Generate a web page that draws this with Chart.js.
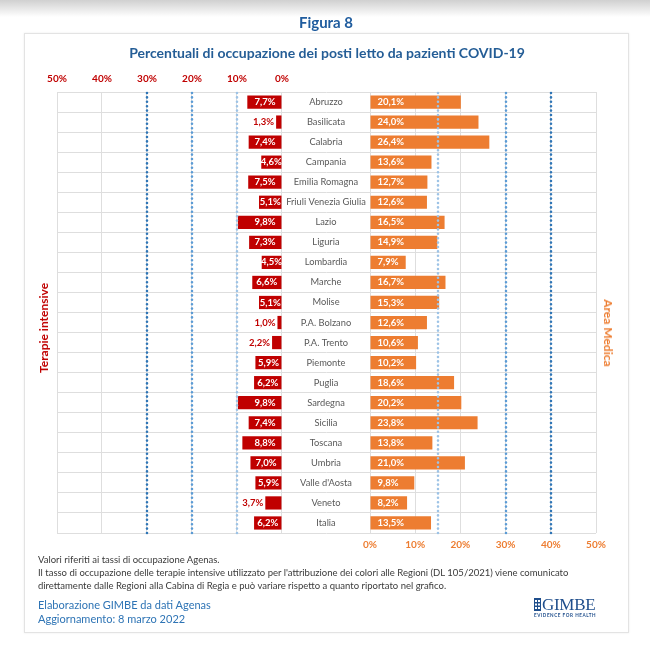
<!DOCTYPE html>
<html lang="it">
<head>
<meta charset="utf-8">
<title>Figura 8</title>
<script src="https://cdn.jsdelivr.net/npm/chart.js@4.4.1/dist/chart.umd.min.js"></script>
<style>
  html, body { margin: 0; padding: 0; }
  body {
    width: 650px; height: 655px; position: relative; overflow: hidden;
    font-family: Lato, "Noto Sans", sans-serif;
    background: #fff linear-gradient(#d0d0d0 0px, #ffffff 17px) no-repeat;
  }
  .panel {
    position: absolute; left: 24px; top: 33px; width: 603px; height: 598px;
    border: 1px solid #e3e3e3; box-shadow: 0 0 2px rgba(0,0,0,.08); background: #fff;
  }
  #grafico { position: absolute; left: 0; top: 0; }
  .t { position: absolute; white-space: nowrap; line-height: 1; }
  .c { transform: translate(-50%, -50%); }
  .l { transform: translateY(-50%); }
  .figura { left: 326px; top: 22px; font-weight: bold; font-size: 15px; color: #1f5c9e; }
  .titolo { left: 327px; top: 53px; font-weight: bold; font-size: 14px; color: #245d96; }
  .ti { left: 44px; top: 328px; font-weight: bold; font-size: 12px; color: #c00000; transform: translate(-50%, -50%) rotate(-90deg); }
  .am { left: 608px; top: 333px; font-weight: bold; font-size: 12px; color: #ed7d31; transform: translate(-50%, -50%) rotate(90deg); }
  .nota { left: 38px; font-size: 9.5px; color: #3a3a3a; }
  .fonte { left: 38px; font-size: 11px; color: #2e74b5; }
  .logo { left: 534px; top: 597px; color: #1f4e8c; }
  .logo .nome { position: absolute; left: 8px; top: 0; font-family: "Liberation Serif", "DejaVu Serif", serif; font-size: 17px; line-height: 15px; letter-spacing: -0.3px; }
  .logo .motto { position: absolute; left: 0; top: 16px; font-size: 4.6px; font-weight: bold; letter-spacing: 0.55px; }
</style>
</head>
<body>
<div class="panel"></div>
<canvas id="grafico" width="650" height="655"></canvas>

<div class="t c figura">Figura 8</div>
<div class="t c titolo">Percentuali di occupazione dei posti letto da pazienti COVID-19</div>
<div class="t ti">Terapie intensive</div>
<div class="t am">Area Medica</div>

<div class="t l nota" style="top:560px">Valori riferiti ai tassi di occupazione Agenas.</div>
<div class="t l nota" style="top:573px">Il tasso di occupazione delle terapie intensive utilizzato per l'attribuzione dei colori alle Regioni (DL 105/2021) viene comunicato</div>
<div class="t l nota" style="top:586px">direttamente dalle Regioni alla Cabina di Regia e può variare rispetto a quanto riportato nel grafico.</div>
<div class="t l fonte" style="top:604px">Elaborazione GIMBE da dati Agenas</div>
<div class="t l fonte" style="top:618px">Aggiornamento: 8 marzo 2022</div>

<div class="t logo">
  <svg width="7" height="13" style="position:absolute;left:0;top:1px">
    <rect x="0" y="0" width="7" height="13" fill="#1f4e8c"/>
    <rect x="1" y="2" width="2" height="2" fill="#fff"/><rect x="4" y="2" width="2" height="2" fill="#fff"/>
    <rect x="1" y="5.5" width="2" height="2" fill="#fff"/><rect x="4" y="5.5" width="2" height="2" fill="#fff"/>
    <rect x="1" y="9" width="2" height="2" fill="#fff"/><rect x="4" y="9" width="2" height="2" fill="#fff"/>
  </svg>
  <span class="nome">GIMBE</span>
  <span class="motto">EVIDENCE FOR HEALTH</span>
</div>

<script>
const regioni = ['Abruzzo', 'Basilicata', 'Calabria', 'Campania', 'Emilia Romagna', 'Friuli Venezia Giulia',
  'Lazio', 'Liguria', 'Lombardia', 'Marche', 'Molise', 'P.A. Bolzano', 'P.A. Trento', 'Piemonte',
  'Puglia', 'Sardegna', 'Sicilia', 'Toscana', 'Umbria', "Valle d'Aosta", 'Veneto', 'Italia'];
const terapieIntensive = [7.7, 1.3, 7.4, 4.6, 7.5, 5.1, 9.8, 7.3, 4.5, 6.6, 5.1, 1.0, 2.2, 5.9, 6.2, 9.8, 7.4, 8.8, 7.0, 5.9, 3.7, 6.2];
const areaMedica = [20.1, 24.0, 26.4, 13.6, 12.7, 12.6, 16.5, 14.9, 7.9, 16.7, 15.3, 12.6, 10.6, 10.2, 18.6, 20.2, 23.8, 13.8, 21.0, 9.8, 8.2, 13.5];
const tickPercentuali = [0, 10, 20, 30, 40, 50];
const soglieTI = [10, 20, 30];
const soglieAM = [15, 30, 40];

const ROSSO = '#c00000';
const ARANCIO = '#ed7d31';
const coloriSoglie = ['#9dc3e6', '#5b9bd5', '#2e75b6'];
const FONT = 'Lato, "Noto Sans", sans-serif';

const fmt = v => v.toFixed(1).replace('.', ',') + '%';

// soglie tratteggiate, nomi regione al centro, etichette dei valori
const etichette = {
  id: 'etichette',
  afterDatasetsDraw(chart) {
    const { ctx, chartArea, scales } = chart;
    ctx.save();

    ctx.lineWidth = 2.6;
    ctx.lineCap = 'round';
    ctx.setLineDash([0, 4.4]);
    [[scales.xTI, soglieTI], [scales.xAM, soglieAM]].forEach(([sc, soglie]) => {
      soglie.forEach((s, i) => {
        const x = Math.round(sc.getPixelForValue(s));
        ctx.strokeStyle = coloriSoglie[i];
        ctx.beginPath();
        ctx.moveTo(x, chartArea.top + 1);
        ctx.lineTo(x, chartArea.bottom + 1);
        ctx.stroke();
      });
    });
    ctx.setLineDash([]);

    const xc = (scales.xTI.getPixelForValue(0) + scales.xAM.getPixelForValue(0)) / 2;
    ctx.textBaseline = 'middle';
    ctx.textAlign = 'center';
    ctx.fillStyle = '#595959';
    ctx.font = '9.3px ' + FONT;
    regioni.forEach((r, i) => ctx.fillText(r, xc, scales.y.getPixelForValue(i)));

    ctx.font = 'bold 9.5px ' + FONT;
    chart.getDatasetMeta(0).data.forEach((bar, i) => {
      const v = terapieIntensive[i];
      const txt = fmt(v);
      const w = ctx.measureText(txt).width;
      const larg = bar.base - bar.x;
      if (v < 4) {
        ctx.fillStyle = ROSSO;
        ctx.textAlign = 'right';
        ctx.fillText(txt, bar.x - 2, bar.y);
      } else if (w + 10 > larg) {
        ctx.fillStyle = '#fff';
        ctx.textAlign = 'center';
        ctx.fillText(txt, (bar.x + bar.base) / 2, bar.y);
      } else {
        ctx.fillStyle = '#fff';
        ctx.textAlign = 'right';
        ctx.fillText(txt, bar.base - 6, bar.y);
      }
    });

    ctx.fillStyle = '#fff';
    ctx.textAlign = 'left';
    chart.getDatasetMeta(1).data.forEach((bar, i) => {
      ctx.fillText(fmt(areaMedica[i]), bar.base + 7, bar.y);
    });
    ctx.restore();
  }
};

const assePercentuale = (pos, colore, min, pad) => ({
  type: 'linear',
  position: pos,
  reverse: pos === 'top',
  min: min,
  max: 50,
  afterBuildTicks: s => { s.ticks = tickPercentuali.map(v => ({ value: v })); },
  ticks: {
    color: colore,
    font: { family: FONT, weight: 'bold', size: 10 },
    padding: pad,
    maxRotation: 0,
    autoSkip: false,
    callback: v => v + '%'
  },
  grid: { color: '#dedede', drawTicks: false },
  border: { display: false }
});

new Chart(document.getElementById('grafico'), {
  type: 'bar',
  data: {
    labels: regioni,
    datasets: [{
      label: 'Terapie intensive',
      data: terapieIntensive,
      xAxisID: 'xTI',
      backgroundColor: ROSSO,
      grouped: false,
      barPercentage: 0.66,
      categoryPercentage: 1
    }, {
      label: 'Area Medica',
      data: areaMedica,
      xAxisID: 'xAM',
      backgroundColor: ARANCIO,
      grouped: false,
      barPercentage: 0.66,
      categoryPercentage: 1
    }]
  },
  options: {
    indexAxis: 'y',
    responsive: false,
    animation: false,
    layout: { padding: { left: 57, right: 54, top: 66, bottom: 98 } },
    scales: {
      y: {
        ticks: { display: false },
        grid: { color: '#dedede', drawTicks: false, offset: true },
        border: { display: false }
      },
      xTI: assePercentuale('top', ROSSO, -69.8, 7),
      xAM: assePercentuale('bottom', ARANCIO, -69.25, 6)
    },
    plugins: {
      legend: { display: false },
      tooltip: { enabled: false }
    }
  },
  plugins: [etichette]
});
</script>
</body>
</html>
